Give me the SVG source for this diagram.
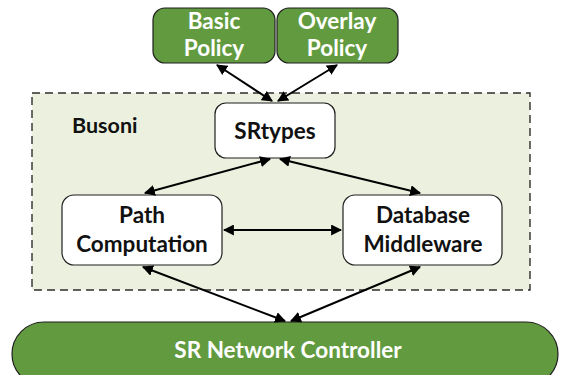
<svg xmlns="http://www.w3.org/2000/svg" width="561" height="375" viewBox="0 0 561 375">
  <style>
    .green { fill: #629b3f; stroke: #1f1f1f; stroke-width: 1.2; }
    .white { fill: #ffffff; stroke: #1f1f1f; stroke-width: 1.2; }
    .lbl { font-family: "Lato", "Liberation Sans", sans-serif; font-weight: bold; font-size: 22.5px; text-anchor: middle; fill: #111111; }
    .lblw { font-family: "Lato", "Liberation Sans", sans-serif; font-weight: bold; font-size: 22.5px; text-anchor: middle; fill: #ffffff; }
    .edge { stroke: #000000; stroke-width: 2; fill: none; marker-start: url(#ah); marker-end: url(#ah); }
  </style>
  <defs>
    <marker id="ah" viewBox="0 0 10 10" refX="9" refY="5" markerWidth="5.5" markerHeight="5.5" orient="auto-start-reverse" markerUnits="strokeWidth">
      <path d="M0,0 L10,5 L0,10 z" fill="#000000"/>
    </marker>
  </defs>

  <!-- Busoni container -->
  <g id="busoni">
    <rect x="32" y="93" width="498" height="197" fill="#ebf1de" stroke="#2e2e2e" stroke-width="1.4" stroke-dasharray="8 5"/>
    <text x="72" y="133" class="lbl" style="text-anchor:start;font-size:21.5px">Busoni</text>
  </g>

  <g id="basic-policy">
    <rect class="green" x="153" y="8" width="122" height="55" rx="12"/>
    <text x="214" y="29" class="lblw">Basic</text>
    <text x="214" y="56" class="lblw">Policy</text>
  </g>

  <g id="overlay-policy">
    <rect class="green" x="277" y="8" width="121" height="55" rx="12"/>
    <text x="337" y="29" class="lblw">Overlay</text>
    <text x="337" y="56" class="lblw">Policy</text>
  </g>

  <g id="srtypes">
    <rect class="white" x="215" y="103" width="120" height="55" rx="11"/>
    <text x="275" y="139" class="lbl">SRtypes</text>
  </g>

  <g id="path-computation">
    <rect class="white" x="62" y="195" width="160" height="70" rx="12"/>
    <text x="142" y="223" class="lbl">Path</text>
    <text x="142" y="252" class="lbl">Computation</text>
  </g>

  <g id="database-middleware">
    <rect class="white" x="343" y="195" width="159" height="70" rx="12"/>
    <text x="423" y="223" class="lbl">Database</text>
    <text x="423" y="252" class="lbl">Middleware</text>
  </g>

  <g id="sr-network-controller">
    <rect class="green" x="12" y="322" width="546" height="64" rx="32"/>
    <text x="288" y="358" class="lblw">SR Network Controller</text>
  </g>

  <!-- connectors -->
  <g id="connectors">
    <line class="edge" x1="217" y1="65" x2="272" y2="101"/>
    <line class="edge" x1="337" y1="65" x2="278" y2="101"/>
    <line class="edge" x1="270" y1="159" x2="145" y2="193"/>
    <line class="edge" x1="280" y1="159" x2="420" y2="193"/>
    <line class="edge" x1="224" y1="230" x2="341" y2="230"/>
    <line class="edge" x1="143" y1="267" x2="285" y2="321"/>
    <line class="edge" x1="420" y1="267" x2="291" y2="321"/>
  </g>
</svg>
